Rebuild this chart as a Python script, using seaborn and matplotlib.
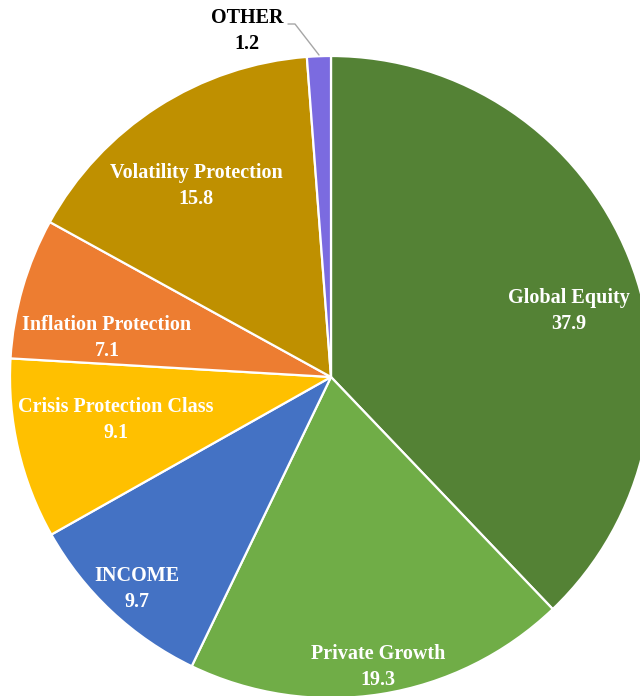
import matplotlib
matplotlib.use('Agg')
import matplotlib.pyplot as plt
import seaborn as sns

categories = ['Global Equity', 'Private Growth', 'INCOME', 'Crisis Protection Class',
              'Inflation Protection', 'Volatility Protection', 'OTHER']
values = [37.9, 19.3, 9.7, 9.1, 7.1, 15.8, 1.2]
colors = ['#548235', '#70AD47', '#4472C4', '#FFC000', '#ED7D31', '#BF9000', '#7B6BE0']

# label block centres in pixels (x, y from top) -- layout only
label_px = [(569, 311), (378, 667), (137, 589), (116, 420), (107, 338), (196, 186), (247, 31)]

sns.set_style("white")
plt.rcParams['font.family'] = ['Liberation Serif', 'DejaVu Serif']
plt.rcParams['font.weight'] = 'bold'

W, H = 640, 696
cx, cy, R = 331, 377, 321

fig = plt.figure(figsize=(W / 100, H / 100), dpi=100)
ax = fig.add_axes([0, 0, 1, 1])

wedges, _ = ax.pie(values, colors=colors, startangle=90, counterclock=False, radius=1,
                   wedgeprops=dict(edgecolor='white', linewidth=1.6))

ax.set_xlim(-cx / R, (W - cx) / R)
ax.set_ylim(-(H - cy) / R, cy / R)
ax.set_aspect('auto')
ax.axis('off')

def to_data(px, py):
    return (px - cx) / R, (cy - py) / R

for name, val, (px, py) in zip(categories, values, label_px):
    x, y = to_data(px, py)
    col = 'black' if name == 'OTHER' else 'white'
    ax.text(x, y, f'{name}\n{val}', ha='center', va='center', color=col,
            fontsize=14.5, fontweight='bold', linespacing=1.38)

# leader line for OTHER
lx, ly = zip(*[to_data(288, 24), to_data(295, 24), to_data(319, 55)])
ax.plot(lx, ly, color='#A6A6A6', linewidth=1)

fig.savefig('out.png', dpi=100)
